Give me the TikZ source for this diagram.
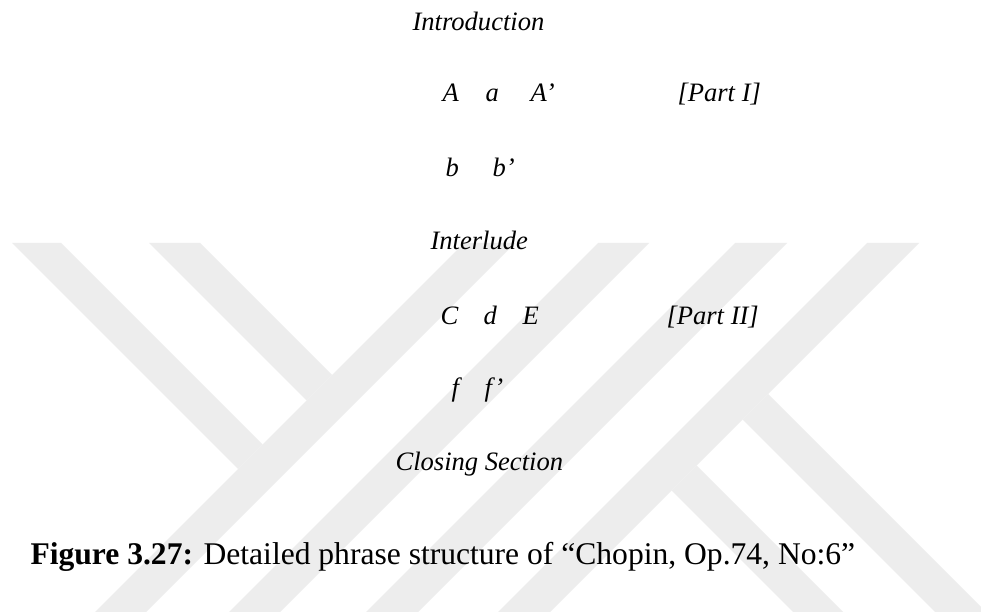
\documentclass[tikz,border=0pt]{standalone}
\usepackage{fontspec}
\setmainfont{Liberation Serif}
\definecolor{markgray}{RGB}{237,237,237}
\begin{document}
\begin{tikzpicture}[x=0.38pt,y=-0.38pt,
  lbl/.style={anchor=base west,inner sep=0pt,font=\fontsize{10.1}{12}\selectfont\itshape},
  captext/.style={anchor=base west,inner sep=0pt,font=\fontsize{12}{14}\selectfont},
  stripe/.style={fill=markgray,draw=none}]
\useasboundingbox (0,0) rectangle (981,612);
\fill[white] (0,0) rectangle (981,612);

% background emblem made of 45-degree bands
\begin{scope}
  \clip (0,0) rectangle (981,612);
  % left arms ending on the first rising band
  \fill[stripe] (12,243) -- (61,243) -- (262.5,444.5) -- (238,469) -- cycle;
  \fill[stripe] (149,243) -- (200,243) -- (332,375) -- (306.5,400.5) -- cycle;
  % rising bands
  \fill[stripe] (464,243) -- (515,243) -- (146,612) -- (95,612) -- cycle;
  \fill[stripe] (598,243) -- (649,243) -- (280,612) -- (229,612) -- cycle;
  \fill[stripe] (735,243) -- (787,243) -- (418,612) -- (366,612) -- cycle;
  \fill[stripe] (867,243) -- (919,243) -- (550,612) -- (498,612) -- cycle;
  % falling legs leaving the last rising band
  \fill[stripe] (671.5,490.5) -- (696.5,465.5) -- (931,700) -- (881,700) -- cycle;
  \fill[stripe] (742.5,419.5) -- (768,394) -- (1074,700) -- (1023,700) -- cycle;
\end{scope}

% phrase structure
\node[lbl] (intro) at (412,30.7) {Introduction};
\node[lbl] (A)  at (442,101.7) {A};
\node[lbl] (a)  at (485,101.7) {a};
\node[lbl] (A2) at (530,101.7) {A’};
\node[lbl] (p1) at (677,101.7) {[Part I]};
\node[lbl] (b)  at (445,176.7) {b};
\node[lbl] (b2) at (492,176.7) {b’};
\node[lbl] (inter) at (430,250) {Interlude};
\node[lbl] (C)  at (440,324.3) {C};
\node[lbl] (d)  at (483,324.3) {d};
\node[lbl] (E)  at (522,324.3) {E};
\node[lbl] (p2) at (666,324.3) {[Part II]};
\node[lbl] (f)  at (451,396.7) {f};
\node[lbl] (f2) at (484,396.7) {f’};
\node[lbl] (close) at (395,470.7) {Closing Section};

% caption
\node[captext] (caption) at (30,565) {\textbf{Figure 3.27:} Detailed phrase structure of “Chopin, Op.74, No:6”};
\end{tikzpicture}
\end{document}
